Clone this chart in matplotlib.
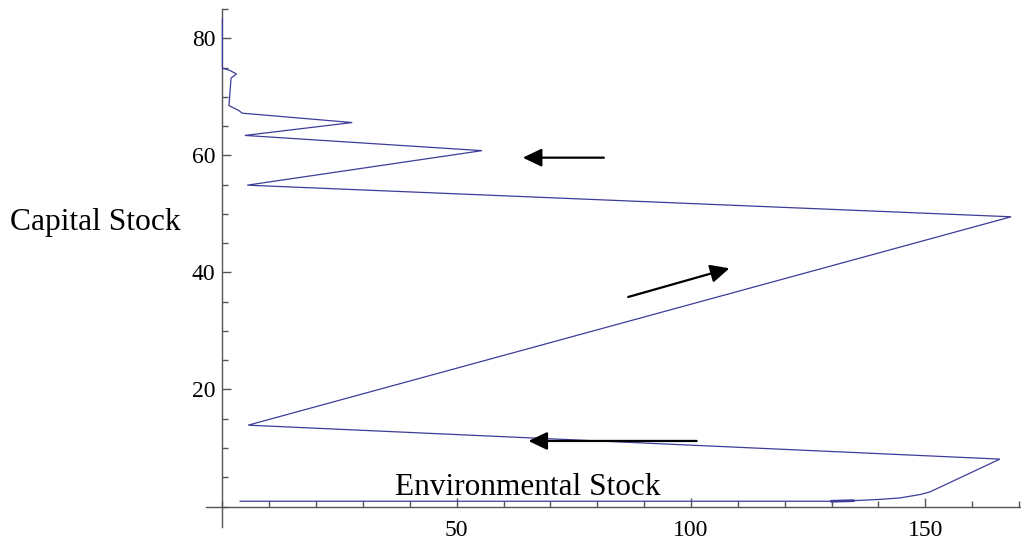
import matplotlib
matplotlib.use("Agg")
import matplotlib.pyplot as plt
from matplotlib.ticker import MultipleLocator

# trajectory of (environmental stock, capital stock)
env_stock = [3.8, 130.0, 134.6, 140.0, 144.6, 148.9, 151.0, 165.9, 5.5, 168.3,
             5.3, 55.4, 4.8, 27.7, 4.25, 3.4, 1.4, 1.85, 3.0, 1.6, 0.0, 0.0]
cap_stock = [0.9, 0.9, 1.0, 1.2, 1.47, 2.05, 2.5, 8.1, 13.9, 49.5,
             54.9, 60.8, 63.4, 65.6, 67.2, 67.7, 68.5, 73.2, 73.9, 74.5, 74.9, 83.3]

# direction arrows: (tail, head)
arrows = [((81.4, 59.6), (64.1, 59.6)),
          ((86.6, 35.8), (108.2, 40.7)),
          ((101.2, 11.2), (65.3, 11.2))]

serif = ['Liberation Serif', 'DejaVu Serif']
line_col = '#3d3d99'
axis_col = '#555555'

fig = plt.figure(figsize=(10.21, 5.46), dpi=100)
ax = fig.add_axes([206/1021, 19/546, 814/1021, 518/546])

ax.plot(env_stock, cap_stock, color=line_col, lw=0.9, solid_joinstyle='miter', zorder=3)
ax.plot(env_stock[1:3], cap_stock[1:3], color=line_col, lw=2.0, zorder=3)

for (x0, y0), (x1, y1) in arrows:
    ax.annotate('', xy=(x1, y1), xytext=(x0, y0),
                arrowprops=dict(arrowstyle='-|>,head_length=1.15,head_width=0.55',
                                color='black', lw=1.6, shrinkA=0, shrinkB=0,
                                mutation_scale=10))

ax.set_xlim(-3.5, 170.2)
ax.set_ylim(-3.5, 85)

for side in ['top', 'right']:
    ax.spines[side].set_visible(False)
ax.spines['left'].set_position(('data', 0))
ax.spines['bottom'].set_position(('data', 0))
for side in ['left', 'bottom']:
    ax.spines[side].set_color(axis_col)
    ax.spines[side].set_linewidth(1.0)

ax.xaxis.set_major_locator(MultipleLocator(50))
ax.xaxis.set_minor_locator(MultipleLocator(10))
ax.yaxis.set_major_locator(MultipleLocator(20))
ax.yaxis.set_minor_locator(MultipleLocator(5))
ax.set_xticks([50, 100, 150])
ax.set_yticks([20, 40, 60, 80])

ax.tick_params(which='both', direction='in', colors=axis_col, width=1.0)
ax.tick_params(which='major', length=6.5)
ax.tick_params(which='minor', length=4.2)
ax.tick_params(axis='x', which='major', pad=10)
ax.tick_params(axis='y', which='major', pad=5)
for lab in ax.get_xticklabels() + ax.get_yticklabels():
    lab.set_fontfamily(serif)
    lab.set_fontsize(17)
    lab.set_color('black')

fig.text(10/1021, (546-230)/546, 'Capital Stock', family=serif, fontsize=22.7,
         ha='left', va='baseline')
fig.text(395/1021, (546-495)/546, 'Environmental Stock', family=serif, fontsize=22.5,
         ha='left', va='baseline')

fig.savefig('out.png', dpi=100)
